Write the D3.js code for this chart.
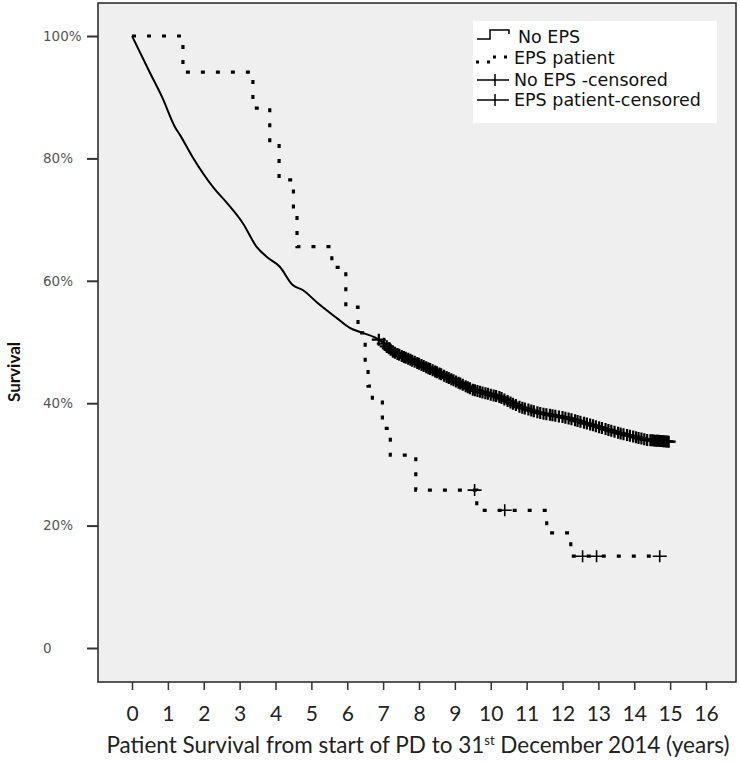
<!DOCTYPE html>
<html lang="en">
<head>
<meta charset="UTF-8">
<title>Patient survival - EPS vs no EPS</title>
<script src="https://d3js.org/d3.v7.min.js"></script>
<style>
    body { margin: 0; background: #fff; }
    .ytick text { font-family: "DejaVu Sans", sans-serif; font-size: 13.5px; fill: #555; }
    .xtick text { font-family: Lato, "Open Sans", sans-serif; font-size: 21px; fill: #222; }
    .legend_text { font-family: "DejaVu Sans", sans-serif; font-size: 17.5px; fill: #111; }
</style>
</head>
<body>
<svg width="740" height="762"></svg>
<script>
    // No EPS group - Kaplan-Meier curve
    const noEpsTime = [0, 0.5, 0.84, 1.2, 1.34, 1.7, 2.26, 2.65, 3.09, 3.48, 3.76, 4.12, 4.48, 4.76, 5.15, 5.71,
        6.07, 6.43, 6.91, 7.27, 7.94, 8.66, 9.5, 10.25, 10.8, 11.36, 12.12, 12.84, 13.59, 14.35, 14.99];
    const noEpsSurv = [100, 94.0, 90.0, 85.1, 83.8, 80.1, 75.3, 72.7, 69.4, 65.5, 63.9, 62.3, 59.3, 58.5, 56.5, 53.9,
        52.3, 51.5, 50.3, 48.4, 46.6, 44.6, 42.2, 41.0, 39.4, 38.4, 37.6, 36.4, 35.1, 34.0, 33.7];
    const noEpsCensored = [6.88, 7.02, 7.1, 7.16, 7.21, 7.27, 7.33, 7.4, 7.45, 7.52, 7.58, 7.63, 7.7, 7.76, 7.81,
        7.88, 7.95, 8.0, 8.07, 8.13, 8.2, 8.26, 8.31, 8.38, 8.45, 8.5, 8.57, 8.62, 8.7, 8.77, 8.83, 8.9, 8.96,
        9.03, 9.1, 9.15, 9.22, 9.3, 9.36, 9.42, 9.5, 9.56, 9.63, 9.7, 9.77, 9.85, 9.92, 10.0, 10.08, 10.15,
        10.24, 10.3, 10.38, 10.47, 10.55, 10.62, 10.7, 10.8, 10.88, 10.95, 11.05, 11.13, 11.2, 11.3, 11.38,
        11.47, 11.55, 11.65, 11.72, 11.8, 11.9, 12.0, 12.08, 12.17, 12.25, 12.35, 12.42, 12.5, 12.6, 12.68,
        12.77, 12.85, 12.93, 13.02, 13.1, 13.2, 13.28, 13.36, 13.45, 13.55, 13.62, 13.7, 13.8, 13.88, 13.97,
        14.05, 14.12, 14.2, 14.28, 14.36, 14.45, 14.5, 14.55, 14.6, 14.64, 14.68, 14.72, 14.76, 14.8, 14.84,
        14.88, 14.92, 14.96];

    // EPS patients - step curve
    const epsTime = [0, 1.42, 3.37, 3.84, 4.1, 4.5, 4.6, 5.57, 5.96, 6.3, 6.5, 6.58, 6.7, 6.98, 7.2, 7.91,
        9.61, 11.56, 12.23, 14.71];
    const epsSurv = [100, 94.1, 88.2, 82.4, 76.5, 70.6, 65.6, 62.2, 55.7, 51.5, 46.5, 42.8, 40.5, 35.9, 31.5,
        25.8, 22.5, 18.8, 15.0, 15.0];
    const epsCensored = [9.55, 10.39, 12.56, 12.95, 14.71];

    const xTickValues = [0, 1, 2, 3, 4, 5, 6, 7, 8, 9, 10, 11, 12, 13, 14, 15, 16];
    const yTickValues = [0, 20, 40, 60, 80, 100];
    const yTickLabels = ["0", "20%", "40%", "60%", "80%", "100%"];

    const legendLabels = ["No EPS", "EPS patient", "No EPS -censored", "EPS patient-censored"];

    let svg = d3.select("svg");

    let x = d3.scaleLinear().domain([0, 16]).range([132, 706]);
    let y = d3.scaleLinear().domain([0, 100]).range([648, 36]);

    // plot area
    svg.append("rect")
        .attr("x", 98).attr("y", 3)
        .attr("width", 638).attr("height", 679)
        .attr("fill", "#efefef")
        .attr("stroke", "#222")
        .attr("stroke-width", 1.5);

    // y axis
    let gy = svg.append("g").attr("class", "ytick")
        .attr("transform", "translate(98,0)")
        .call(d3.axisLeft(y).tickValues(yTickValues).tickSize(11)
            .tickFormat((d, i) => yTickLabels[i]));
    gy.select(".domain").remove();
    gy.selectAll("line").attr("stroke", "#333").attr("stroke-width", 2);
    gy.selectAll("text").attr("text-anchor", "start").attr("x", -55);

    // x axis
    let gx = svg.append("g").attr("class", "xtick")
        .attr("transform", "translate(0,682)")
        .call(d3.axisBottom(x).tickValues(xTickValues).tickSize(8).tickPadding(16));
    gx.select(".domain").remove();
    gx.selectAll("line").attr("stroke", "#333").attr("stroke-width", 1.5);

    // titles
    let xt = svg.append("text")
        .attr("x", 418).attr("y", 753)
        .attr("text-anchor", "middle")
        .style("font-family", "Lato, 'Open Sans', sans-serif")
        .style("font-size", "22.5px")
        .attr("fill", "#222");
    xt.append("tspan").text("Patient Survival from start of PD to 31");
    xt.append("tspan").attr("dy", -8).style("font-size", "13px").text("st");
    xt.append("tspan").attr("dy", 8).text(" December 2014 (years)");

    svg.append("text")
        .attr("transform", "translate(20,372) rotate(-90)")
        .attr("text-anchor", "middle")
        .style("font-family", "Lato, 'Open Sans', sans-serif")
        .style("font-size", "17px")
        .style("font-weight", "bold")
        .attr("fill", "#111")
        .text("Survival");

    // curves
    const noEps = noEpsTime.map((t, i) => [t, noEpsSurv[i]]);
    const eps = epsTime.map((t, i) => [t, epsSurv[i]]);

    svg.append("path")
        .attr("d", d3.line().x(d => x(d[0])).y(d => y(d[1])).curve(d3.curveMonotoneX)(noEps))
        .attr("fill", "none")
        .attr("stroke", "#000")
        .attr("stroke-width", 2)
        .attr("stroke-linejoin", "round");

    svg.append("path")
        .attr("d", d3.line().x(d => x(d[0])).y(d => y(d[1])).curve(d3.curveStepAfter)(eps))
        .attr("fill", "none")
        .attr("stroke", "#000")
        .attr("stroke-width", 3.2)
        .attr("stroke-dasharray", "4,11");

    // survival at a censoring time
    function survNoEps(t) {
        let i = d3.bisectRight(noEpsTime, t);
        if (i >= noEpsTime.length) return noEpsSurv[noEpsSurv.length - 1];
        let t0 = noEpsTime[i - 1], t1 = noEpsTime[i];
        return noEpsSurv[i - 1] + (noEpsSurv[i] - noEpsSurv[i - 1]) * (t - t0) / (t1 - t0);
    }
    function survEps(t) {
        let i = d3.bisectRight(epsTime, t);
        return epsSurv[Math.max(0, i - 1)];
    }

    function cross(g, data, f, sw) {
        g.selectAll("path")
            .data(data)
            .enter()
            .append("path")
            .attr("d", function (t) {
                let cx = x(t), cy = y(f(t));
                return "M" + (cx - 7) + "," + cy + "H" + (cx + 7) + "M" + cx + "," + (cy - 6) + "V" + (cy + 6);
            })
            .attr("stroke", "#000")
            .attr("stroke-width", sw)
            .attr("fill", "none");
    }
    cross(svg.append("g"), noEpsCensored, survNoEps, 2.2);
    cross(svg.append("g"), epsCensored, survEps, 1.6);

    // legend
    let lg = svg.append("g");
    lg.append("rect").attr("x", 473).attr("y", 21).attr("width", 244).attr("height", 102).attr("fill", "#fff");
    const rowY = [37, 58, 80, 100];
    lg.append("path").attr("d", "M477,39H490V30H509V34")
        .attr("fill", "none").attr("stroke", "#000").attr("stroke-width", 1.5);
    lg.append("path").attr("d", "M476,62H490V57H509V60")
        .attr("fill", "none").attr("stroke", "#000").attr("stroke-width", 3)
        .attr("stroke-dasharray", "3,8");
    [rowY[2], rowY[3]].forEach(function (ry) {
        lg.append("path").attr("d", "M477," + ry + "H509M495," + (ry - 6) + "V" + (ry + 6))
            .attr("fill", "none").attr("stroke", "#000").attr("stroke-width", 1.5);
    });
    lg.selectAll("text")
        .data(legendLabels)
        .enter()
        .append("text")
        .attr("class", "legend_text")
        .attr("x", (d, i) => i === 0 ? 518 : 514)
        .attr("y", (d, i) => rowY[i])
        .attr("dy", "0.35em")
        .text(d => d);
</script>
</body>
</html>
